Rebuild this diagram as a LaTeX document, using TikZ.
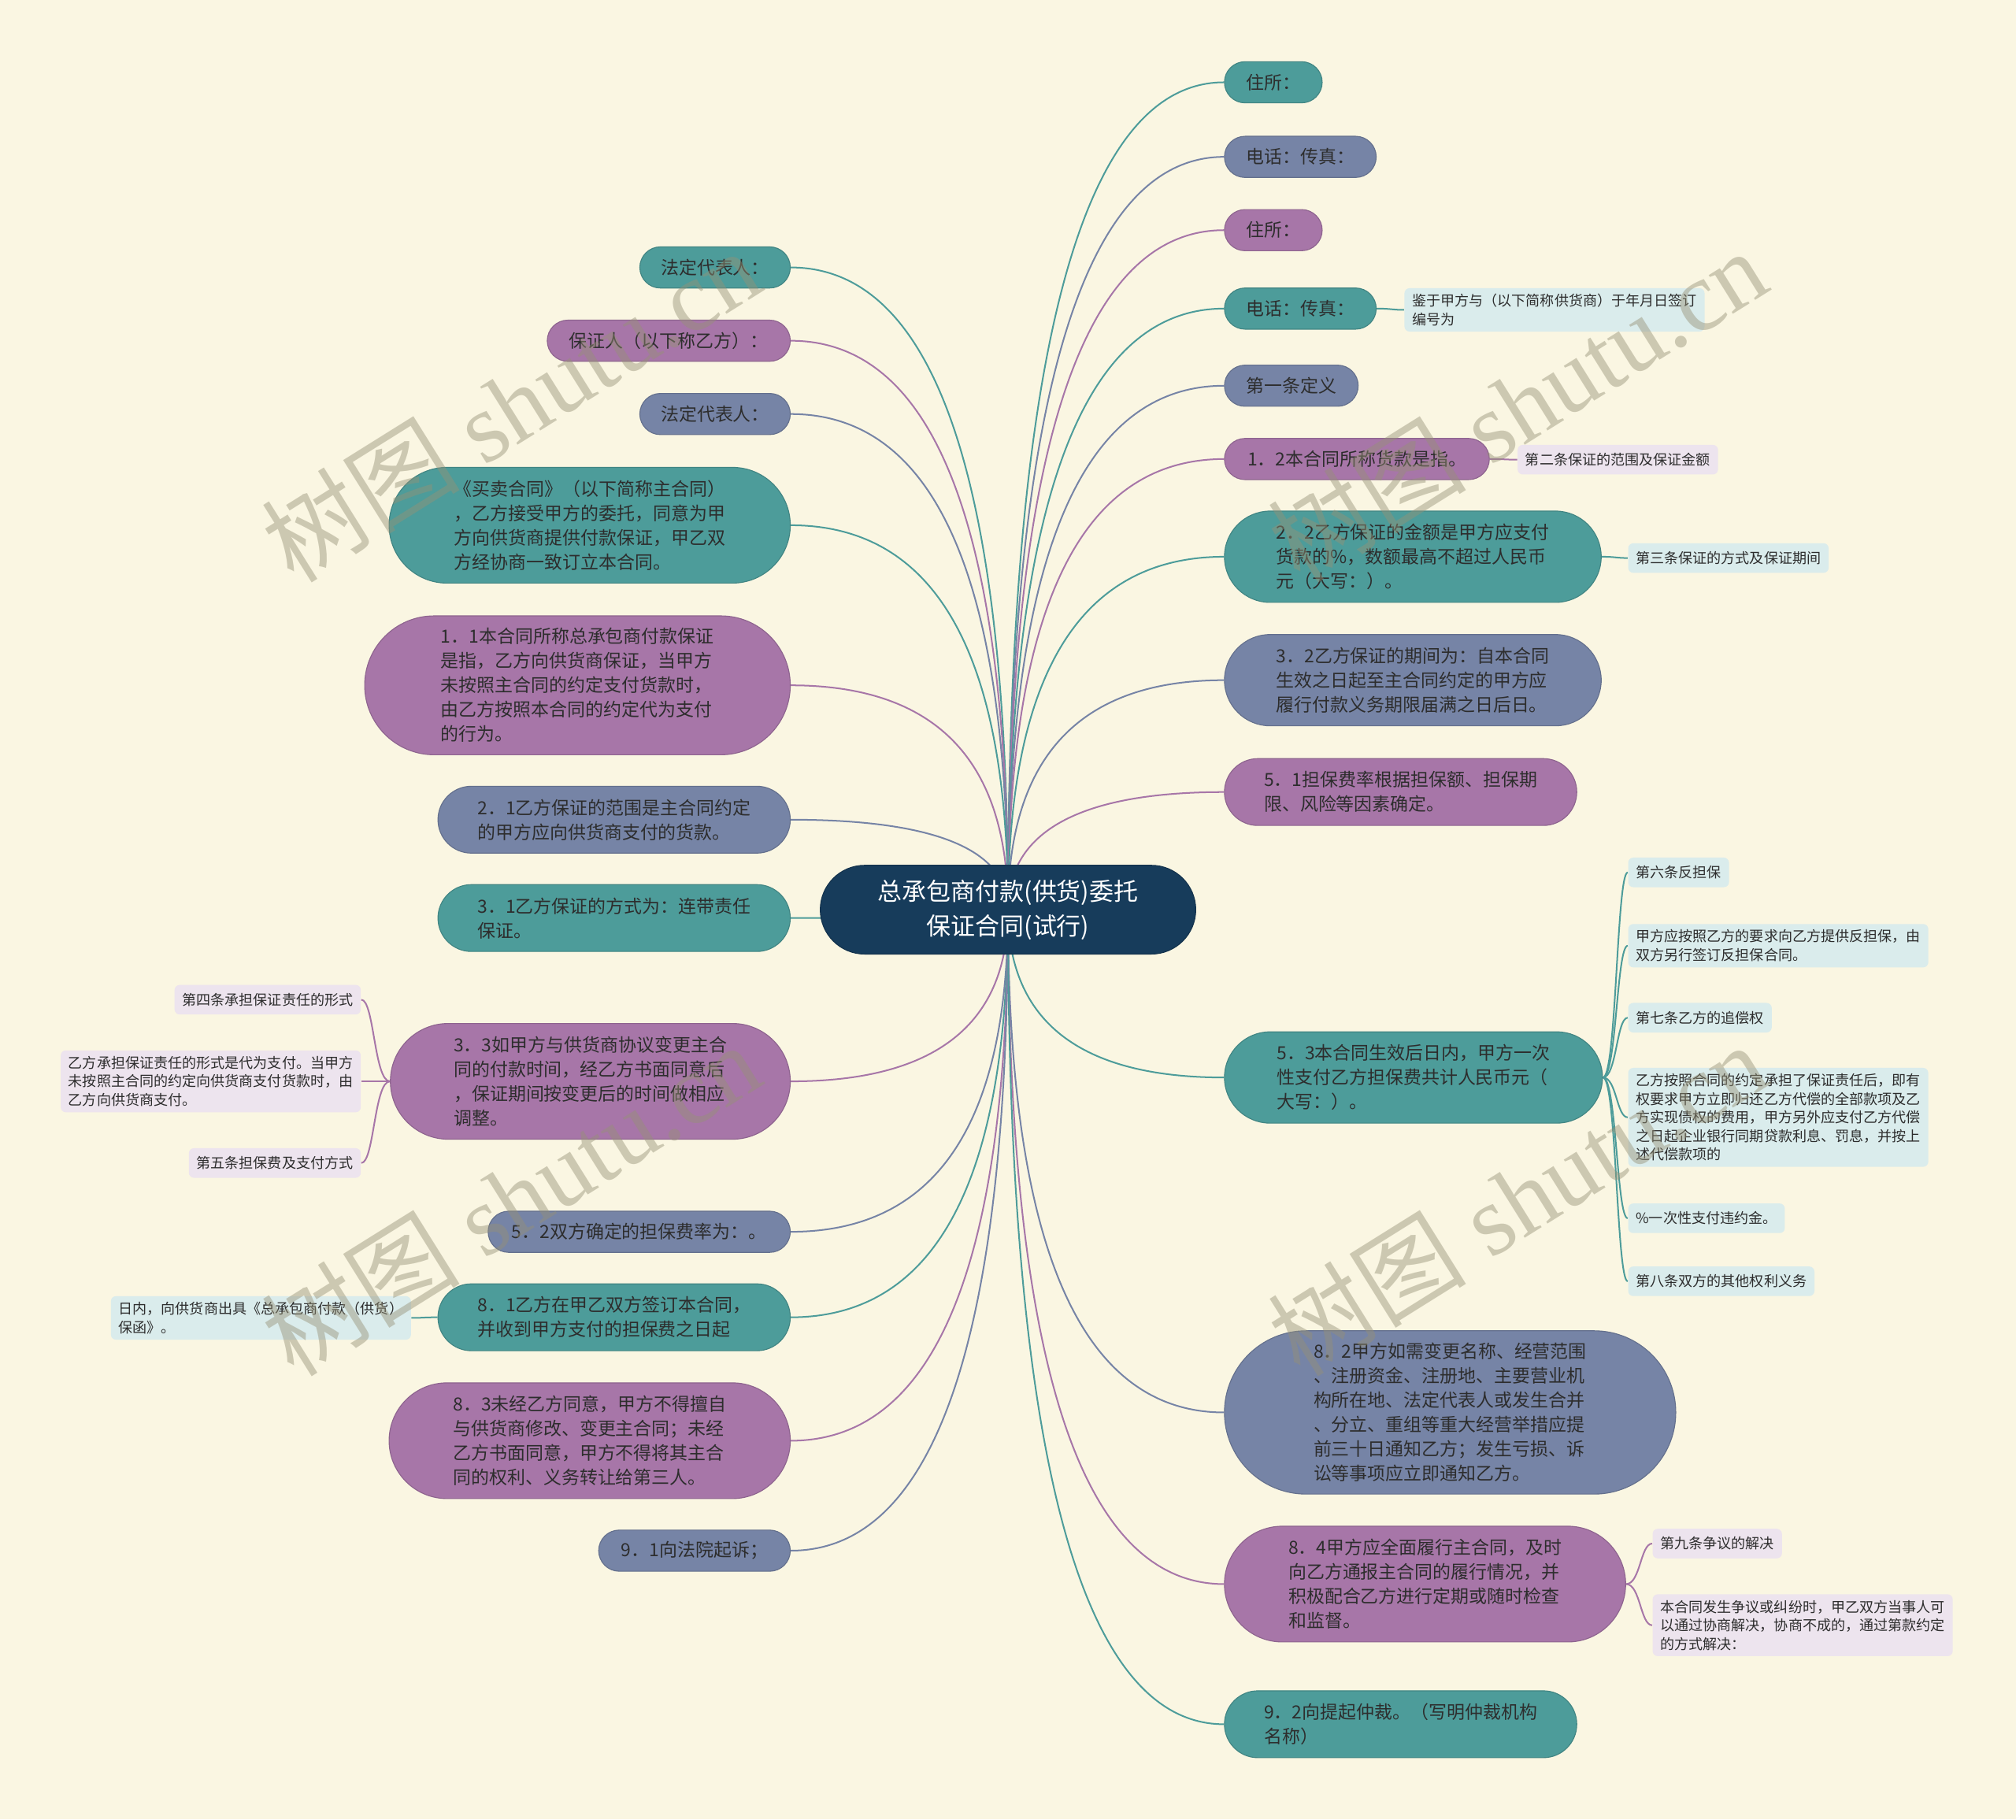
\documentclass[tikz,border=0pt]{standalone}
\usepackage{fontspec}
\usepackage{xcolor}
\usepackage{tikz}
\usetikzlibrary{calc, positioning}
\setmainfont{Liberation Serif}
\newfontfamily\cjk{Noto Sans CJK SC}
\definecolor{Paper}{RGB}{250,246,226}
\definecolor{Teal}{RGB}{77,156,154}
\definecolor{Mauve}{RGB}{167,118,168}
\definecolor{Slate}{RGB}{118,132,166}
\definecolor{Navy}{RGB}{23,60,91}
\definecolor{InkGray}{RGB}{45,45,45}
\definecolor{LeafBlue}{RGB}{218,236,236}
\definecolor{LeafPink}{RGB}{237,228,238}
\definecolor{Mark}{RGB}{150,145,118}
\pgfdeclarelayer{paper}
\pgfdeclarelayer{links}
\pgfsetlayers{paper,links,main}

\begin{document}
\begin{tikzpicture}[x=0.2mm, y=-0.2mm,
	topic/.style={draw=#1!85!black, line width=0.4pt, fill=#1, text=InkGray,
		font=\cjk\fontsize{8}{10.8}\selectfont, align=left, inner sep=0pt},
	h1/.style={minimum height=6.4mm, rounded corners=3.2mm},
	h2/.style={minimum height=10.4mm, rounded corners=5.2mm},
	h3/.style={minimum height=14.2mm, rounded corners=7.1mm},
	h4/.style={minimum height=18mm, rounded corners=9mm},
	h5/.style={minimum height=21.6mm, rounded corners=10.8mm},
	h6/.style={minimum height=25.4mm, rounded corners=12.7mm},
	leaf/.style={fill=#1, text=InkGray, font=\cjk\fontsize{6.3}{8.2}\selectfont,
		align=left, inner xsep=1.2mm, inner ysep=0.9mm, minimum height=4.6mm,
		rounded corners=0.8mm},
	link/.style={draw=#1, line width=0.7pt},
	stamp/.style={rotate=32, text=Mark, text opacity=0.45, font=\fontsize{44}{44}\selectfont}]
	\useasboundingbox (0,0) rectangle (1568,1415);
	\begin{pgfonlayer}{paper}
		\fill[Paper] (0,0) rectangle (1568,1415);
	\end{pgfonlayer}

	% 中心主题
	\node[topic=Navy, text=white, font=\cjk\fontsize{10.8}{15.4}\selectfont, align=center,
		minimum width=58.4mm, minimum height=13.8mm, rounded corners=6.9mm] (ctr) at (784,707.5)
		{总承包商付款(供货)委托\\保证合同(试行)};

	% 左侧分支
	\node[topic=Teal, h1, minimum width=23.4mm, anchor=east] (l1) at (615,208) {法定代表人：};
	\node[topic=Mauve, h1, minimum width=37.8mm, anchor=east] (l2) at (615,265) {保证人（以下称乙方）：};
	\node[topic=Slate, h1, minimum width=23.4mm, anchor=east] (l3) at (615,322) {法定代表人：};
	\node[topic=Teal, h4, minimum width=62.4mm, anchor=east] (l4) at (615,408.5) {《买卖合同》（以下简称主合同）\\，乙方接受甲方的委托，同意为甲\\方向供货商提供付款保证，甲乙双\\方经协商一致订立本合同。};
	\node[topic=Mauve, h5, minimum width=66.2mm, anchor=east] (l5) at (615,533) {1．1本合同所称总承包商付款保证\\是指，乙方向供货商保证，当甲方\\未按照主合同的约定支付货款时，\\由乙方按照本合同的约定代为支付\\的行为。};
	\node[topic=Slate, h2, minimum width=54.8mm, anchor=east] (l6) at (615,637.5) {2．1乙方保证的范围是主合同约定\\的甲方应向供货商支付的货款。};
	\node[topic=Teal, h2, minimum width=54.8mm, anchor=east] (l7) at (615,714) {3．1乙方保证的方式为：连带责任\\保证。};
	\node[topic=Mauve, h4, minimum width=62.2mm, anchor=east] (l8) at (615,841) {3．3如甲方与供货商协议变更主合\\同的付款时间，经乙方书面同意后\\，保证期间按变更后的时间做相应\\调整。};
	\node[topic=Slate, h1, minimum width=47mm, anchor=east] (l9) at (615,958) {5．2双方确定的担保费率为：。};
	\node[topic=Teal, h2, minimum width=54.8mm, anchor=east] (l10) at (615,1024.5) {8．1乙方在甲乙双方签订本合同，\\并收到甲方支付的担保费之日起};
	\node[topic=Mauve, h4, minimum width=62.4mm, anchor=east] (l11) at (615,1120.5) {8．3未经乙方同意，甲方不得擅自\\与供货商修改、变更主合同；未经\\乙方书面同意，甲方不得将其主合\\同的权利、义务转让给第三人。};
	\node[topic=Slate, h1, minimum width=29.8mm, anchor=east] (l12) at (615,1206) {9．1向法院起诉；};

	\node[leaf=LeafPink, anchor=east] (l8a) at (281,777.5) {第四条承担保证责任的形式};
	\node[leaf=LeafPink, anchor=east] (l8b) at (281,841) {乙方承担保证责任的形式是代为支付。当甲方\\未按照主合同的约定向供货商支付货款时，由\\乙方向供货商支付。};
	\node[leaf=LeafPink, anchor=east] (l8c) at (281,904.5) {第五条担保费及支付方式};
	\node[leaf=LeafBlue, anchor=east] (l10a) at (320,1025) {日内，向供货商出具《总承包商付款（供货）\\保函》。};

	% 右侧分支
	\node[topic=Teal, h1, minimum width=15.2mm, anchor=west] (r1) at (952,64) {住所：};
	\node[topic=Slate, h1, minimum width=23.6mm, anchor=west] (r2) at (952,122) {电话：传真：};
	\node[topic=Mauve, h1, minimum width=15.2mm, anchor=west] (r3) at (952,179) {住所：};
	\node[topic=Teal, h1, minimum width=23.6mm, anchor=west] (r4) at (952,240) {电话：传真：};
	\node[topic=Slate, h1, minimum width=20.8mm, anchor=west] (r5) at (952,300) {第一条定义};
	\node[topic=Mauve, h1, minimum width=41.2mm, anchor=west] (r6) at (952,357) {1．2本合同所称货款是指。};
	\node[topic=Teal, h3, minimum width=58.6mm, anchor=west] (r7) at (952,433) {2．2乙方保证的金额是甲方应支付\\货款的\%，数额最高不超过人民币\\元（大写：）。};
	\node[topic=Slate, h3, minimum width=58.6mm, anchor=west] (r8) at (952,529) {3．2乙方保证的期间为：自本合同\\生效之日起至主合同约定的甲方应\\履行付款义务期限届满之日后日。};
	\node[topic=Mauve, h2, minimum width=54.8mm, anchor=west] (r9) at (952,616) {5．1担保费率根据担保额、担保期\\限、风险等因素确定。};
	\node[topic=Teal, h3, minimum width=58.8mm, anchor=west] (r10) at (952,838) {5．3本合同生效后日内，甲方一次\\性支付乙方担保费共计人民币元（\\大写：）。};
	\node[topic=Slate, h6, minimum width=70.2mm, anchor=west] (r11) at (952,1098.5) {8．2甲方如需变更名称、经营范围\\、注册资金、注册地、主要营业机\\构所在地、法定代表人或发生合并\\、分立、重组等重大经营举措应提\\前三十日通知乙方；发生亏损、诉\\讼等事项应立即通知乙方。};
	\node[topic=Mauve, h4, minimum width=62.4mm, anchor=west] (r12) at (952,1232) {8．4甲方应全面履行主合同，及时\\向乙方通报主合同的履行情况，并\\积极配合乙方进行定期或随时检查\\和监督。};
	\node[topic=Teal, h2, minimum width=54.8mm, anchor=west] (r13) at (952,1341) {9．2向提起仲裁。（写明仲裁机构\\名称）};

	\node[leaf=LeafBlue, anchor=west] (r4a) at (1092,241) {鉴于甲方与（以下简称供货商）于年月日签订\\编号为};
	\node[leaf=LeafPink, anchor=west] (r6a) at (1180,357.5) {第二条保证的范围及保证金额};
	\node[leaf=LeafBlue, anchor=west] (r7a) at (1266,434) {第三条保证的方式及保证期间};
	\node[leaf=LeafBlue, anchor=west] (r10a) at (1266,678.5) {第六条反担保};
	\node[leaf=LeafBlue, anchor=west] (r10b) at (1266,735.5) {甲方应按照乙方的要求向乙方提供反担保，由\\双方另行签订反担保合同。};
	\node[leaf=LeafBlue, anchor=west] (r10c) at (1266,791.5) {第七条乙方的追偿权};
	\node[leaf=LeafBlue, anchor=west] (r10d) at (1266,869) {乙方按照合同的约定承担了保证责任后，即有\\权要求甲方立即归还乙方代偿的全部款项及乙\\方实现债权的费用，甲方另外应支付乙方代偿\\之日起企业银行同期贷款利息、罚息，并按上\\述代偿款项的};
	\node[leaf=LeafBlue, anchor=west] (r10e) at (1266,947.5) {\%一次性支付违约金。};
	\node[leaf=LeafBlue, anchor=west] (r10f) at (1266,996.5) {第八条双方的其他权利义务};
	\node[leaf=LeafPink, anchor=west] (r12a) at (1285,1200.5) {第九条争议的解决};
	\node[leaf=LeafPink, anchor=west] (r12b) at (1285,1264) {本合同发生争议或纠纷时，甲乙双方当事人可\\以通过协商解决，协商不成的，通过第款约定\\的方式解决：};

	% 连线
	\begin{pgfonlayer}{links}
		\foreach \n/\c in {l1/Teal, l2/Mauve, l3/Slate, l4/Teal, l5/Mauve, l6/Slate,
				l7/Teal, l8/Mauve, l9/Slate, l10/Teal, l11/Mauve, l12/Slate}{
			\coordinate (k) at (ctr.center |- \n.east);
			\draw[link=\c] (ctr.center) .. controls ($(ctr.center)!.667!(k)$) and ($(\n.east)!.667!(k)$) .. (\n.east);
		}
		\foreach \n/\c in {r1/Teal, r2/Slate, r3/Mauve, r4/Teal, r5/Slate, r6/Mauve, r7/Teal,
				r8/Slate, r9/Mauve, r10/Teal, r11/Slate, r12/Mauve, r13/Teal}{
			\coordinate (k) at (ctr.center |- \n.west);
			\draw[link=\c] (ctr.center) .. controls ($(ctr.center)!.667!(k)$) and ($(\n.west)!.667!(k)$) .. (\n.west);
		}
		\foreach \p/\q/\c in {r4/r4a/Teal, r6/r6a/Mauve, r7/r7a/Teal, r10/r10a/Teal, r10/r10b/Teal,
				r10/r10c/Teal, r10/r10d/Teal, r10/r10e/Teal, r10/r10f/Teal, r12/r12a/Mauve, r12/r12b/Mauve}{
			\coordinate (m) at ($(\p.east)!.55!(\q.west)$);
			\draw[link=\c] (\p.east) .. controls (m |- \p.east) and (m |- \q.west) .. (\q.west);
		}
		\foreach \p/\q/\c in {l8/l8a/Mauve, l8/l8b/Mauve, l8/l8c/Mauve, l10/l10a/Teal}{
			\coordinate (m) at ($(\p.west)!.55!(\q.east)$);
			\draw[link=\c] (\p.west) .. controls (m |- \p.west) and (m |- \q.east) .. (\q.east);
		}
	\end{pgfonlayer}

	% 水印
	\foreach \p in {(397,315), (1180,315), (397,932), (1180,932)}
		\node[stamp] at \p {{\cjk 树图} shutu.cn};
\end{tikzpicture}
\end{document}
